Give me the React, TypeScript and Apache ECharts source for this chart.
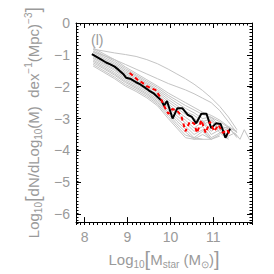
import React, { useEffect, useRef } from "react";
import * as echarts from "echarts";

const X_MIN = 7.8;
const X_MAX = 11.9;
const Y_MIN = -6.25;
const Y_MAX = 0;
const X_MAJOR = [8, 9, 10, 11];
const Y_MAJOR = [0, -1, -2, -3, -4, -5, -6];

const X_GRAY = [8.2, 8.45, 8.7, 8.95, 9.2, 9.45, 9.7, 9.95, 10.15, 10.35, 10.55, 10.75, 10.95, 11.15, 11.35, 11.55];

const O1 = [-0.82, -0.88, -0.94, -0.99, -1.05, -1.15, -1.28, -1.45, -1.6, -1.75, -1.92, -2.12, -2.35, -2.62, -2.95, -3.35];
const O2 = [-0.9, -1.02, -1.15, -1.3, -1.45, -1.6, -1.75, -1.9, -2.0, -2.1, -2.22, -2.36, -2.5, -2.75, -3.1, -3.45];
const M1 = [-0.78, -0.97, -1.15, -1.38, -1.58, -1.78, -1.98, -2.2, -2.35, -2.5, -2.65, -2.8, -2.9, -3.05, -3.25, -3.4];
const M2 = [-0.83, -1.02, -1.2, -1.43, -1.63, -1.83, -2.03, -2.27, -2.43, -2.59, -2.73, -2.87, -2.96, -3.1, -3.28, -3.42];
const M3 = [-0.88, -1.07, -1.25, -1.48, -1.67, -1.88, -2.09, -2.33, -2.51, -2.68, -2.82, -3.0, -2.95, -3.25, -3.3, -3.55];
const M4 = [-0.92, -1.12, -1.3, -1.53, -1.72, -1.92, -2.14, -2.4, -2.59, -2.78, -2.9, -3.1, -3.0, -3.35, -3.25, -3.6];
const M5 = [-0.97, -1.16, -1.35, -1.58, -1.77, -1.97, -2.19, -2.47, -2.67, -2.87, -2.99, -3.2, -3.05, -3.45, -3.3, null];
const M6 = [-1.02, -1.21, -1.4, -1.63, -1.82, -2.02, -2.25, -2.54, -2.76, -2.96, -3.15, -3.05, -3.4, -3.2, -3.6, null];
const M7 = [-1.07, -1.26, -1.45, -1.68, -1.87, -2.07, -2.29, -2.6, -2.83, -3.05, -3.3, -3.1, -3.5, -3.35, -3.65, null];
const M8 = [-1.11, -1.3, -1.49, -1.73, -1.91, -2.11, -2.34, -2.66, -2.91, -3.14, -3.4, -3.25, -3.6, -3.45, -3.65, null];
const M9 = [-1.16, -1.35, -1.55, -1.78, -1.96, -2.16, -2.4, -2.73, -3.0, -3.24, -3.5, -3.35, -3.65, -3.5, null, null];
const M10 = [-1.2, -1.4, -1.6, -1.83, -2.01, -2.21, -2.45, -2.8, -3.08, -3.33, -3.6, -3.4, -3.65, -3.55, null, null];
const M11 = [-1.25, -1.44, -1.64, -1.87, -2.05, -2.25, -2.5, -2.86, -3.16, -3.42, -3.65, -3.5, -3.65, null, null, null];
const M12 = [-1.3, -1.5, -1.7, -1.93, -2.1, -2.3, -2.55, -2.93, -3.23, -3.52, -3.6, -3.65, null, null, null, null];
const M13 = [-1.35, -1.55, -1.75, -1.98, -2.15, -2.35, -2.6, -3.0, -3.3, -3.6, -3.65, -3.65, -3.65, null, null, null];
const GRAY_LINES = [O1, O2, M1, M2, M3, M4, M5, M6, M7, M8, M9, M10, M11, M12, M13];

const TAIL_X = [11.35, 11.5, 11.62, 11.72, 11.85];
const TAIL_Y = [-3.55, -3.45, -3.65, -3.35, -3.68];

const BLACK_X = [8.17, 8.3, 8.4, 8.5, 8.6, 8.7, 8.8, 8.9, 8.97, 9.08, 9.2, 9.3, 9.4, 9.5, 9.6, 9.7, 9.8, 9.85, 9.92, 10.05, 10.16, 10.28, 10.4, 10.5, 10.6, 10.72, 10.84, 10.95, 11.06, 11.17, 11.28, 11.39];
const BLACK_Y = [-0.98, -1.08, -1.16, -1.24, -1.3, -1.37, -1.48, -1.6, -1.72, -1.76, -1.86, -1.93, -2.02, -2.12, -2.2, -2.32, -2.45, -2.6, -2.45, -3.0, -2.68, -2.68, -2.88, -2.95, -3.15, -2.85, -2.85, -3.3, -3.15, -3.17, -3.6, -3.32];

const RED_X = [9.05, 9.15, 9.25, 9.35, 9.45, 9.55, 9.65, 9.75, 9.85, 9.95, 10.05, 10.15, 10.25, 10.35, 10.45, 10.55, 10.62, 10.72, 10.82, 10.92, 11.02, 11.12, 11.22, 11.32, 11.4];
const RED_Y = [-1.57, -1.68, -1.8, -1.88, -1.98, -2.05, -2.1, -2.3, -2.6, -2.85, -2.7, -2.75, -2.9, -3.4, -3.1, -3.15, -3.45, -3.05, -3.45, -3.1, -3.4, -3.2, -3.45, -3.35, -3.55];

const minorTicks = (lo: number, hi: number) => {
  const out: number[] = [];
  for (let i = Math.round(lo * 10); i <= Math.round(hi * 10); i++) out.push(i / 10);
  return out;
};
const X_MINOR = minorTicks(X_MIN, X_MAX);
const Y_MINOR = minorTicks(-6.2, 0);

const FONT = "Liberation Sans";
const TXT = "#9a9a9a";

const zip = (xs: number[], ys: (number | null)[]) => xs.map((x, i) => [x, ys[i]]);

export default function App() {
  const ref = useRef<HTMLDivElement>(null);
  useEffect(() => {
    if (!ref.current) return;
    const chart = echarts.init(ref.current, undefined, { renderer: "svg" });
    const nameRichX = {
      n: { color: TXT, fontSize: 15, fontFamily: FONT, lineHeight: 20 },
      s: { color: TXT, fontSize: 10, fontFamily: FONT, lineHeight: 8, verticalAlign: "bottom" },
      b: { color: TXT, fontSize: 20, fontFamily: FONT, lineHeight: 20 },
    };
    const nameRichY = {
      n: { color: TXT, fontSize: 15, fontFamily: FONT, lineHeight: 20 },
      s: { color: TXT, fontSize: 10, fontFamily: FONT, lineHeight: 8, verticalAlign: "bottom" },
      p: { color: TXT, fontSize: 10, fontFamily: FONT, lineHeight: 8, verticalAlign: "top" },
      b: { color: TXT, fontSize: 20, fontFamily: FONT, lineHeight: 20 },
    };
    const xa = (gridIndex: number, position: string, ticks: number[], len: number, line: boolean, labels: boolean, named: boolean) => ({
      type: "value",
      gridIndex,
      position,
      min: X_MIN,
      max: X_MAX,
      axisLine: { show: line, onZero: false, lineStyle: { color: "#000", width: 1 } },
      axisTick: { show: true, inside: true, length: len, customValues: ticks, lineStyle: { color: "#000", width: 1 } },
      axisLabel: labels
        ? { show: true, customValues: X_MAJOR, color: TXT, fontSize: 14, fontFamily: FONT, margin: 8 }
        : { show: false },
      splitLine: { show: false },
      name: named ? "{n|Log}{s|10}{b|[}{n|M}{s|star}{n| (M}{s|⊙}{n|)}{b|]}" : "",
      nameLocation: "middle",
      nameGap: 23,
      nameTextStyle: { rich: nameRichX },
    });
    const ya = (gridIndex: number, position: string, ticks: number[], len: number, line: boolean, labels: boolean, named: boolean) => ({
      type: "value",
      gridIndex,
      position,
      min: Y_MIN,
      max: Y_MAX,
      axisLine: { show: line, onZero: false, lineStyle: { color: "#000", width: 1 } },
      axisTick: { show: true, inside: true, length: len, customValues: ticks, lineStyle: { color: "#000", width: 1 } },
      axisLabel: labels
        ? {
            show: true,
            customValues: Y_MAJOR,
            color: TXT,
            fontSize: 14,
            fontFamily: FONT,
            margin: 6,
            formatter: (v: number) => (v < 0 ? "\u2212" + Math.abs(v) : String(v)),
          }
        : { show: false },
      splitLine: { show: false },
      name: named ? "{n|Log}{s|10}{b|[}{n|dN/dLog}{s|10}{n|(M)  dex}{p|\u22121}{n|(Mpc)}{p|\u22123}{b|]}" : "",
      nameLocation: "middle",
      nameGap: 25,
      nameTextStyle: { rich: nameRichY },
    });
    const grid = { left: 76, top: 23, width: 176, height: 202, containLabel: false };
    const series: any[] = GRAY_LINES.map((g) => ({
      type: "line",
      xAxisIndex: 0,
      yAxisIndex: 0,
      data: zip(X_GRAY, g),
      symbol: "none",
      silent: true,
      lineStyle: { color: "#c4c4c4", width: 1 },
    }));
    series.push({
      type: "line",
      xAxisIndex: 0,
      yAxisIndex: 0,
      data: zip(TAIL_X, TAIL_Y),
      symbol: "none",
      silent: true,
      lineStyle: { color: "#c4c4c4", width: 1 },
    });
    series.push({
      type: "line",
      xAxisIndex: 0,
      yAxisIndex: 0,
      data: zip(BLACK_X, BLACK_Y),
      symbol: "none",
      silent: true,
      lineStyle: { color: "#000", width: 2 },
    });
    series.push({
      type: "line",
      xAxisIndex: 0,
      yAxisIndex: 0,
      data: zip(RED_X, RED_Y),
      symbol: "none",
      silent: true,
      lineStyle: { color: "#ff0000", width: 2, type: [4, 3] },
    });
    chart.setOption({
      animation: false,
      backgroundColor: "#fff",
      grid: [grid, { ...grid }],
      xAxis: [
        xa(0, "bottom", X_MAJOR, 5, true, true, true),
        xa(0, "top", X_MAJOR, 5, true, false, false),
        xa(1, "bottom", X_MINOR, 2.5, false, false, false),
        xa(1, "top", X_MINOR, 2.5, false, false, false),
      ],
      yAxis: [
        ya(0, "left", Y_MAJOR, 5, true, true, true),
        ya(0, "right", Y_MAJOR, 5, true, false, false),
        ya(1, "left", Y_MINOR, 2.5, false, false, false),
        ya(1, "right", Y_MINOR, 2.5, false, false, false),
      ],
      graphic: [
        { type: "text", left: 91, top: 33, style: { text: "(l)", fill: TXT, fontSize: 14, fontFamily: FONT } },
      ],
      series,
    });
    return () => chart.dispose();
  }, []);
  return <div ref={ref} style={{ position: "fixed", left: 0, top: 0, width: 274, height: 274 }} />;
}
